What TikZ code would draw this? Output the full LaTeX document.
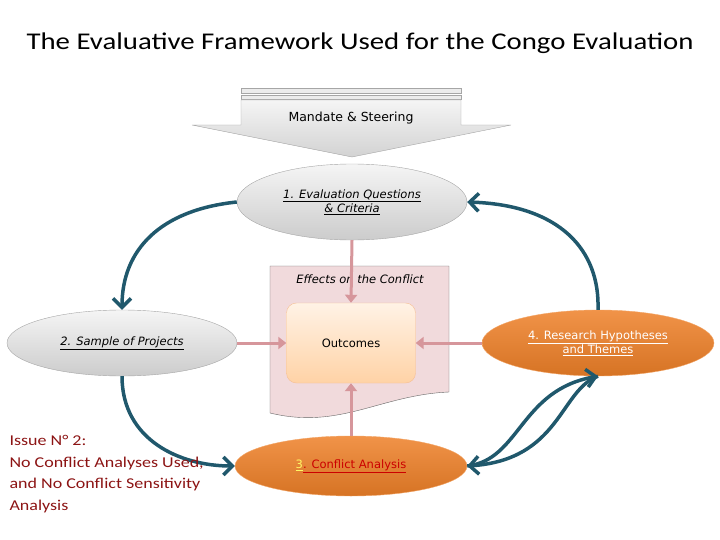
\documentclass[tikz,border=0pt]{standalone}
\usepackage{fontspec}
\setmainfont{Carlito}
\newfontfamily\tah{DejaVu Sans}
\newcommand\myul[1]{\underline{#1}}
\usetikzlibrary{shapes.geometric,arrows.meta}
\definecolor{teal}{RGB}{32,88,108}
\definecolor{pinkarr}{RGB}{214,150,155}
\definecolor{orng}{RGB}{238,128,40}
\definecolor{issue}{RGB}{140,20,20}
\tikzset{
  gray ell/.style={ellipse,draw=gray!70,top color=gray!8,bottom color=gray!40,minimum width=230pt,align=center,font=\tah\itshape\fontsize{11.5}{14}\selectfont},
  orange ell/.style={ellipse,draw=orng!70!white,top color=orng!85!white,bottom color=orng!90!black,minimum width=232pt,align=center,text=white,font=\tah\fontsize{11.5}{14}\selectfont},
  tealarr/.style={draw=teal,line width=3.5pt,-{Straight Barb[length=9pt,width=18pt]}},
  pinkarrow/.style={draw=pinkarr,line width=3pt,-{Triangle[length=8pt,width=12pt]}}
}
\begin{document}
\begin{tikzpicture}[x=1pt,y=-1pt]
\useasboundingbox (0,0) rectangle (720,540);
\node (title) at (360,43) {\scalebox{1.2}[1]{\fontsize{24}{28}\selectfont The Evaluative Framework Used for the Congo Evaluation}};
% block arrow
\draw[gray!70,fill=gray!15] (241,88) rectangle (461,93);
\draw[gray!70,fill=gray!15] (241,95) rectangle (461,99);
\draw[gray!70,top color=gray!8,bottom color=gray!35] (241,100) -- (461,100) -- (461,125) -- (511,125) -- (352,157) -- (192,125) -- (241,125) -- cycle;
\node (mandate) at (351,118) {\tah\fontsize{12.5}{14}\selectfont Mandate \& Steering};
% effects box
\draw[gray!80!black,fill=pinkarr!35] (270,266) -- (449,266) -- (449,392) .. controls (380,395) and (340,430) .. (270,413) -- cycle;
\node (effects) at (360,279) {\tah\itshape\fontsize{11.5}{13}\selectfont Effects on the Conflict};
\node[draw=orng!50,rounded corners=10pt,top color=orange!10,bottom color=orange!35,minimum width=129pt,minimum height=80pt,font=\tah\fontsize{11.5}{13}\selectfont] (out) at (351,343) {Outcomes};
\node[gray ell,minimum height=76pt] (e1) at (352,202) {\myul{1. Evaluation Questions}\\\myul{\& Criteria}};
\node[gray ell,minimum height=66pt] (e2) at (122,343) {\myul{2. Sample of Projects}};
\node[orange ell,minimum height=66pt] (e4) at (598,343) {\myul{4. Research Hypotheses}\\\myul{and Themes}};
\node[orange ell,minimum height=60pt] (e3) at (351,466) {\textcolor{yellow!60}{\myul{3}}\textcolor{red!80!black}{\myul{. Conflict Analysis}}};
% pink arrows
\draw[pinkarrow] (e1.south) -- (out.north);
\draw[pinkarrow] (e2.east) -- (out.west);
\draw[pinkarrow] (e4.west) -- (out.east);
\draw[pinkarrow] (e3.north) -- (out.south);
% teal arrows
\draw[tealarr] (e1.west) .. controls (160,210) and (122,250) .. (e2.north);
\draw[tealarr] (e4.north) .. controls (600,250) and (560,205) .. (e1.east);
\draw[tealarr] (e2.south) .. controls (122,440) and (180,466) .. (e3.west);
\draw[tealarr] (e3.east) .. controls (520,460) and (520,390) .. (e4.south);
\draw[tealarr] (e4.south) .. controls (560,390) and (560,460) .. (e3.east);
\node[anchor=north west,align=left,text=issue,font=\fontsize{15}{21.5}\selectfont] (issue) at (6,432) {\scalebox{1.2}[1]{Issue N° 2:}\\\scalebox{1.2}[1]{No Conflict Analyses Used,}\\\scalebox{1.2}[1]{and No Conflict Sensitivity}\\\scalebox{1.2}[1]{Analysis}};
\end{tikzpicture}
\end{document}
